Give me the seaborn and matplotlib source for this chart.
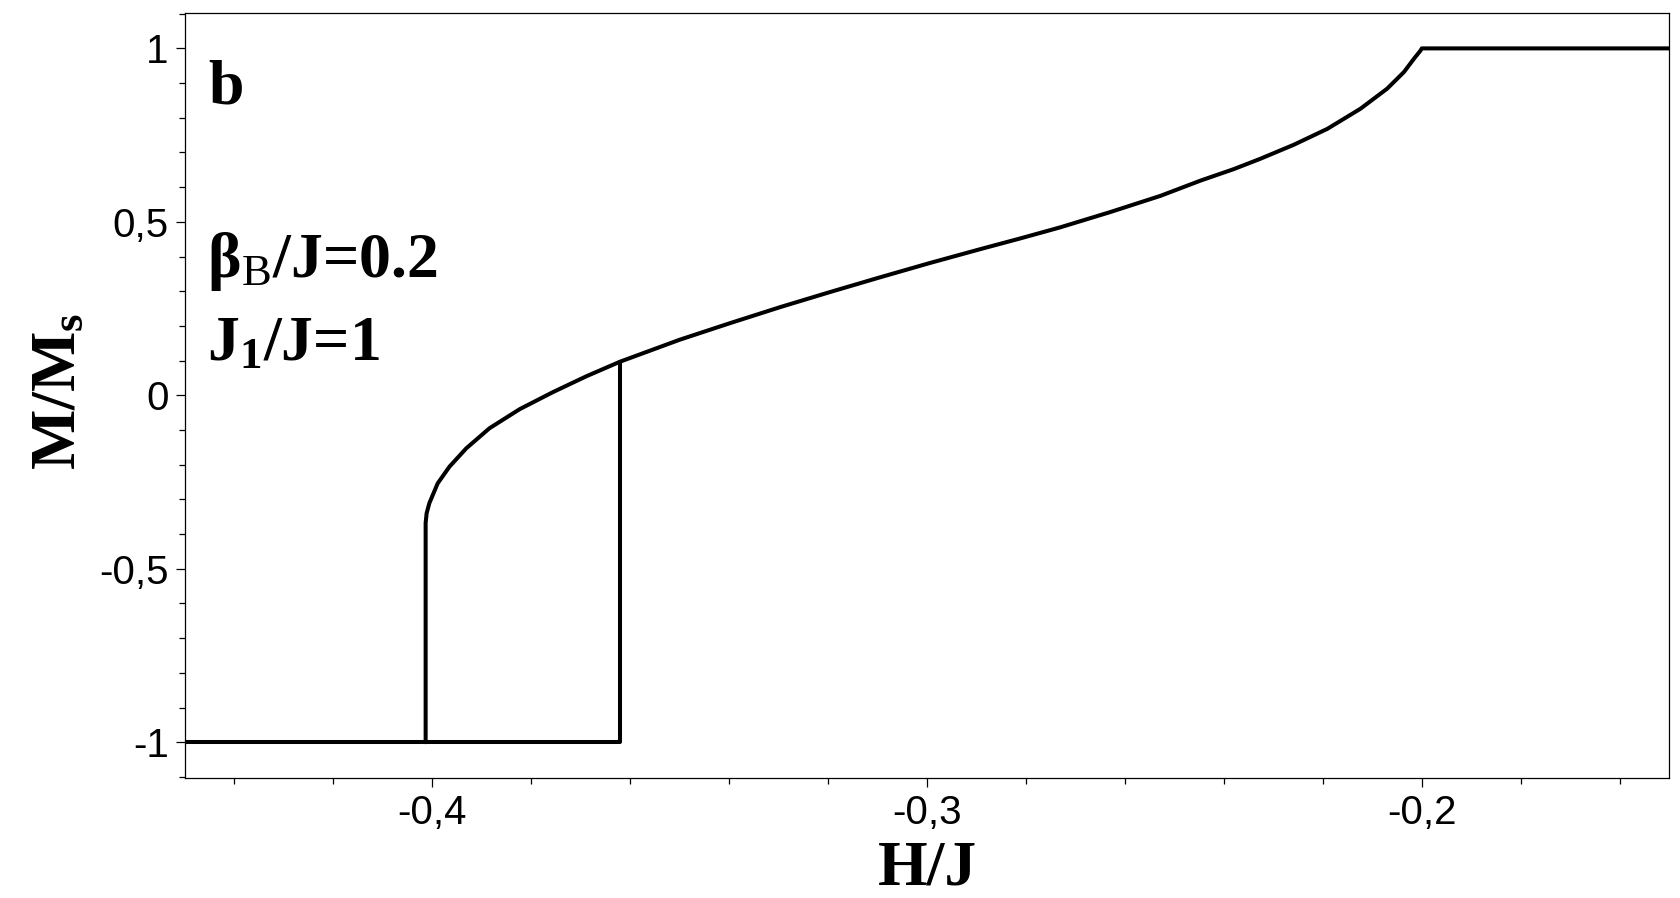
import numpy as np
import pandas as pd
import seaborn as sns
import matplotlib.pyplot as plt
from matplotlib.ticker import MultipleLocator, FixedLocator

# lower branch (field increasing): stays at -1, jumps at H/J = -0.362
h_lower = [-0.45, -0.362, -0.362]
m_lower = [-1.0, -1.0, 0.097]

# upper branch: jump at H/J = -0.4013, then the smooth magnetisation curve up to saturation
h_upper = [-0.4013, -0.4013, -0.4011, -0.40055, -0.39887, -0.3965, -0.3931, -0.3884,
           -0.3823, -0.3756, -0.3688, -0.3620, -0.3500, -0.3400, -0.3297, -0.3195,
           -0.3095, -0.2995, -0.2893, -0.2812, -0.2731, -0.2630, -0.2528, -0.2447,
           -0.2380, -0.2326, -0.2259, -0.2191, -0.2124, -0.2070, -0.2036, -0.2016,
           -0.2003, -0.2000, -0.15]
m_upper = [-1.0, -0.368, -0.340, -0.311, -0.254, -0.206, -0.153, -0.095,
           -0.040, 0.009, 0.055, 0.097, 0.160, 0.207, 0.254, 0.298,
           0.340, 0.381, 0.421, 0.452, 0.484, 0.528, 0.575, 0.619,
           0.652, 0.682, 0.722, 0.768, 0.826, 0.884, 0.932, 0.970,
           0.993, 1.0, 1.0]

x_ticks = [-0.4, -0.3, -0.2]
x_ticklabels = ["-0,4", "-0,3", "-0,2"]
y_ticks = [-1, -0.5, 0, 0.5, 1]
y_ticklabels = ["-1", "-0,5", "0", "0,5", "1"]

df = pd.concat([
    pd.DataFrame({"H": h_lower, "M": m_lower, "branch": "lower"}),
    pd.DataFrame({"H": h_upper, "M": m_upper, "branch": "upper"}),
], ignore_index=True)

sns.set_style("white")
plt.rcParams["font.family"] = ["Liberation Sans", "DejaVu Sans"]
plt.rcParams["text.color"] = "black"
plt.rcParams["xtick.color"] = "black"
plt.rcParams["ytick.color"] = "black"
plt.rcParams["mathtext.fontset"] = "custom"
plt.rcParams["mathtext.rm"] = "Liberation Serif"
plt.rcParams["mathtext.bf"] = "Liberation Serif:bold"
plt.rcParams["mathtext.it"] = "Liberation Serif:italic"

fig = plt.figure(figsize=(16.8, 8.98), dpi=100)
ax = fig.add_axes([0.1099, 0.1333, 0.8837, 0.8526])

sns.lineplot(data=df, x="H", y="M", units="branch", estimator=None, sort=False,
             color="black", linewidth=2.9, ax=ax)
for ln in ax.lines:
    ln.set_solid_joinstyle("round")

ax.set_xlim(-0.45, -0.15)
ax.set_ylim(-1.104, 1.103)
ax.set_xlabel("")
ax.set_ylabel("")

ax.xaxis.set_major_locator(FixedLocator(x_ticks))
ax.set_xticklabels(x_ticklabels)
ax.xaxis.set_minor_locator(MultipleLocator(0.02))
ax.yaxis.set_major_locator(FixedLocator(y_ticks))
ax.set_yticklabels(y_ticklabels)
ax.yaxis.set_minor_locator(MultipleLocator(0.1))

ax.tick_params(which="both", direction="out", color="black", width=0.9,
               bottom=True, left=True, top=False, right=False)
ax.tick_params(which="major", length=6.5, labelsize=29, pad=5, labelcolor="black")
ax.tick_params(which="minor", length=4)
for sp in ax.spines.values():
    sp.set_visible(True)
    sp.set_color("black")
    sp.set_linewidth(0.9)

serif = "Liberation Serif"
fig.text(0.552, 0.015, "H/J", fontsize=46, fontweight="bold", family=serif,
         ha="center", va="baseline")
fig.text(0.036, 0.564, r"M/M$_\mathbf{s}$", fontsize=46, fontweight="bold", family=serif,
         rotation=90, ha="center", va="center")

fig.text(0.1238, 0.8853, "b", fontsize=46, fontweight="bold", family=serif, va="baseline")
fig.text(0.1232, 0.6915, r"β$_\mathrm{B}$/J=0.2", fontsize=46, fontweight="bold",
         family=serif, va="baseline")
fig.text(0.1232, 0.5991, r"J$_\mathbf{1}$/J=1", fontsize=46, fontweight="bold",
         family=serif, va="baseline")

fig.savefig("out.png", dpi=100, facecolor="white")
